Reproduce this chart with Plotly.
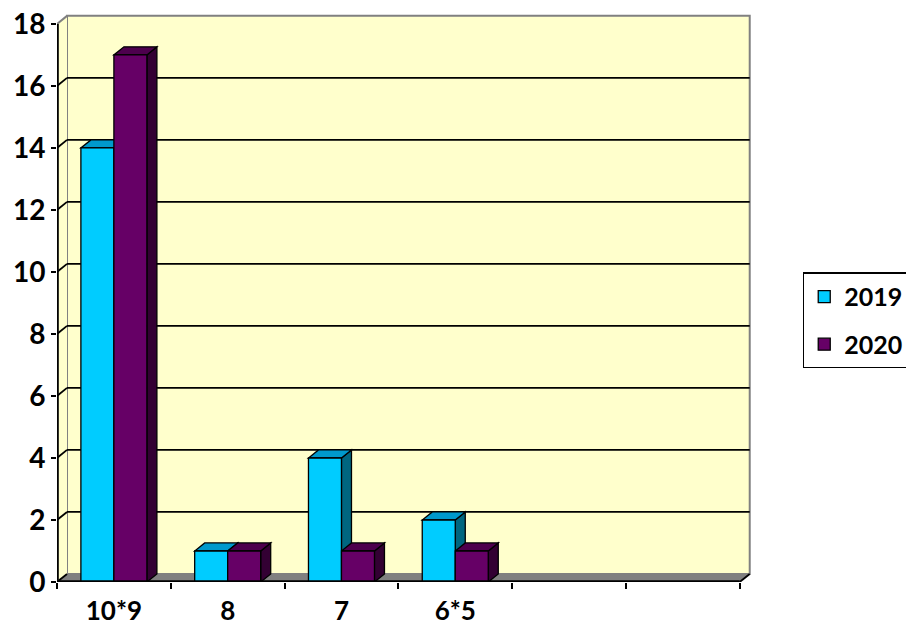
import plotly.graph_objects as go

# ---- data ----
categories = ["10*9", "8", "7", "6*5", "", ""]
values_2019 = [14, 1, 4, 2, None, None]
values_2020 = [17, 1, 1, 1, None, None]
series_names = ["2019", "2020"]
y_ticks = [0, 2, 4, 6, 8, 10, 12, 14, 16, 18]

# ---- style ----
FRONT = ["#00CCFF", "#660066"]
TOP = ["#0099CC", "#4D004D"]
SIDE = ["#006680", "#330033"]
BAR_W = 0.29
OFFSETS = [-0.29, 0.0]
DX, DY = 0.088, 0.26          # 3-D depth offsets in axis units
FONT = dict(family="Lato", size=28, color="black", weight="bold")
XFONT = dict(family="Lato", size=26, color="black", weight="bold")
LFONT = dict(family="Lato", size=25, color="black", weight="bold")

N = len(categories)
YMAX = y_ticks[-1]
xs = [i + 0.5 for i in range(N)]
series = [values_2019, values_2020]

shapes = []


def path(points):
    return "M " + " L ".join(f"{x},{y}" for x, y in points) + " Z"


# back wall
shapes.append(dict(type="rect", xref="x", yref="y", x0=DX, x1=N + DX, y0=DY, y1=YMAX + DY,
                   fillcolor="#FFFFCC", line=dict(color="#808080", width=2), layer="below"))
# left wall
shapes.append(dict(type="path", xref="x", yref="y",
                   path=path([(0, 0), (0, YMAX), (DX, YMAX + DY), (DX, DY)]),
                   fillcolor="#FFFFCC", line=dict(width=0), layer="below"))
shapes.append(dict(type="line", xref="x", yref="y", x0=0, y0=YMAX, x1=DX, y1=YMAX + DY,
                   line=dict(color="#808080", width=2), layer="below"))
# floor
shapes.append(dict(type="path", xref="x", yref="y",
                   path=path([(0, 0), (N, 0), (N + DX, DY), (DX, DY)]),
                   fillcolor="#808080", line=dict(width=0), layer="below"))
# gridlines on back & left walls
for v in y_ticks[:-1]:
    if v > 0:
        shapes.append(dict(type="line", xref="x", yref="y", x0=DX, x1=N + DX, y0=v + DY, y1=v + DY,
                           line=dict(color="black", width=1.8), layer="below"))
    shapes.append(dict(type="line", xref="x", yref="y", x0=0, x1=DX, y0=v, y1=v + DY,
                       line=dict(color="black", width=1.8), layer="below"))

# 3-D faces of bars (tops and right sides)
for s, vals in enumerate(series):
    for xc, v in zip(xs, vals):
        if v is None:
            continue
        xl = xc + OFFSETS[s]
        xr = xl + BAR_W
        shapes.append(dict(type="path", xref="x", yref="y",
                           path=path([(xr, 0), (xr, v), (xr + DX, v + DY), (xr + DX, DY)]),
                           fillcolor=SIDE[s], line=dict(color="black", width=1.3), layer="below"))
        shapes.append(dict(type="path", xref="x", yref="y",
                           path=path([(xl, v), (xr, v), (xr + DX, v + DY), (xl + DX, v + DY)]),
                           fillcolor=TOP[s], line=dict(color="black", width=1.3), layer="below"))

# front axis lines
shapes.append(dict(type="line", xref="x", yref="y", x0=0, x1=0, y0=0, y1=YMAX,
                   line=dict(color="black", width=3.6), layer="above"))
shapes.append(dict(type="line", xref="x", yref="y", x0=0, x1=N, y0=0, y1=0,
                   line=dict(color="black", width=3.6), layer="above"))
shapes.append(dict(type="line", xref="x", yref="y", x0=N, x1=N + DX, y0=0, y1=DY,
                   line=dict(color="black", width=1.8), layer="above"))

fig = go.Figure()
for s, vals in enumerate(series):
    fig.add_trace(go.Bar(
        x=xs, y=vals, name=series_names[s], width=BAR_W, offset=OFFSETS[s],
        marker=dict(color=FRONT[s], line=dict(color="black", width=1.3)),
        legendgroup=series_names[s],
    ))

fig.update_layout(
    width=906, height=629, autosize=False,
    margin=dict(l=57, r=154, t=14, b=47, autoexpand=False),
    paper_bgcolor="white", plot_bgcolor="white",
    barmode="overlay",
    shapes=shapes,
    font=FONT,
    xaxis=dict(range=[0, N + DX + 0.02], tickvals=xs, ticktext=categories,
               ticks="outside", ticklen=6, tickcolor="rgba(0,0,0,0)",
               minor=dict(ticks="outside", tickvals=list(range(N + 1)), ticklen=6,
                          tickcolor="black", tickwidth=1.8, showgrid=False),
               showgrid=False, zeroline=False, showline=False, tickfont=XFONT,
               automargin=False),
    yaxis=dict(range=[0, YMAX + DY + 0.06], tickvals=y_ticks,
               ticks="outside", ticklen=5, tickwidth=1.8, tickcolor="black",
               showgrid=False, zeroline=False, showline=False, tickfont=FONT,
               automargin=False),
    legend=dict(x=1.073, y=0.545, xanchor="left", yanchor="top",
                bordercolor="black", borderwidth=1.5, bgcolor="white",
                font=LFONT, traceorder="grouped", tracegroupgap=12),
    showlegend=True,
)

fig.write_html("out.html", config={"displayModeBar": False},
               post_script="document.body.style.margin='0px';document.body.style.overflow='hidden';")
